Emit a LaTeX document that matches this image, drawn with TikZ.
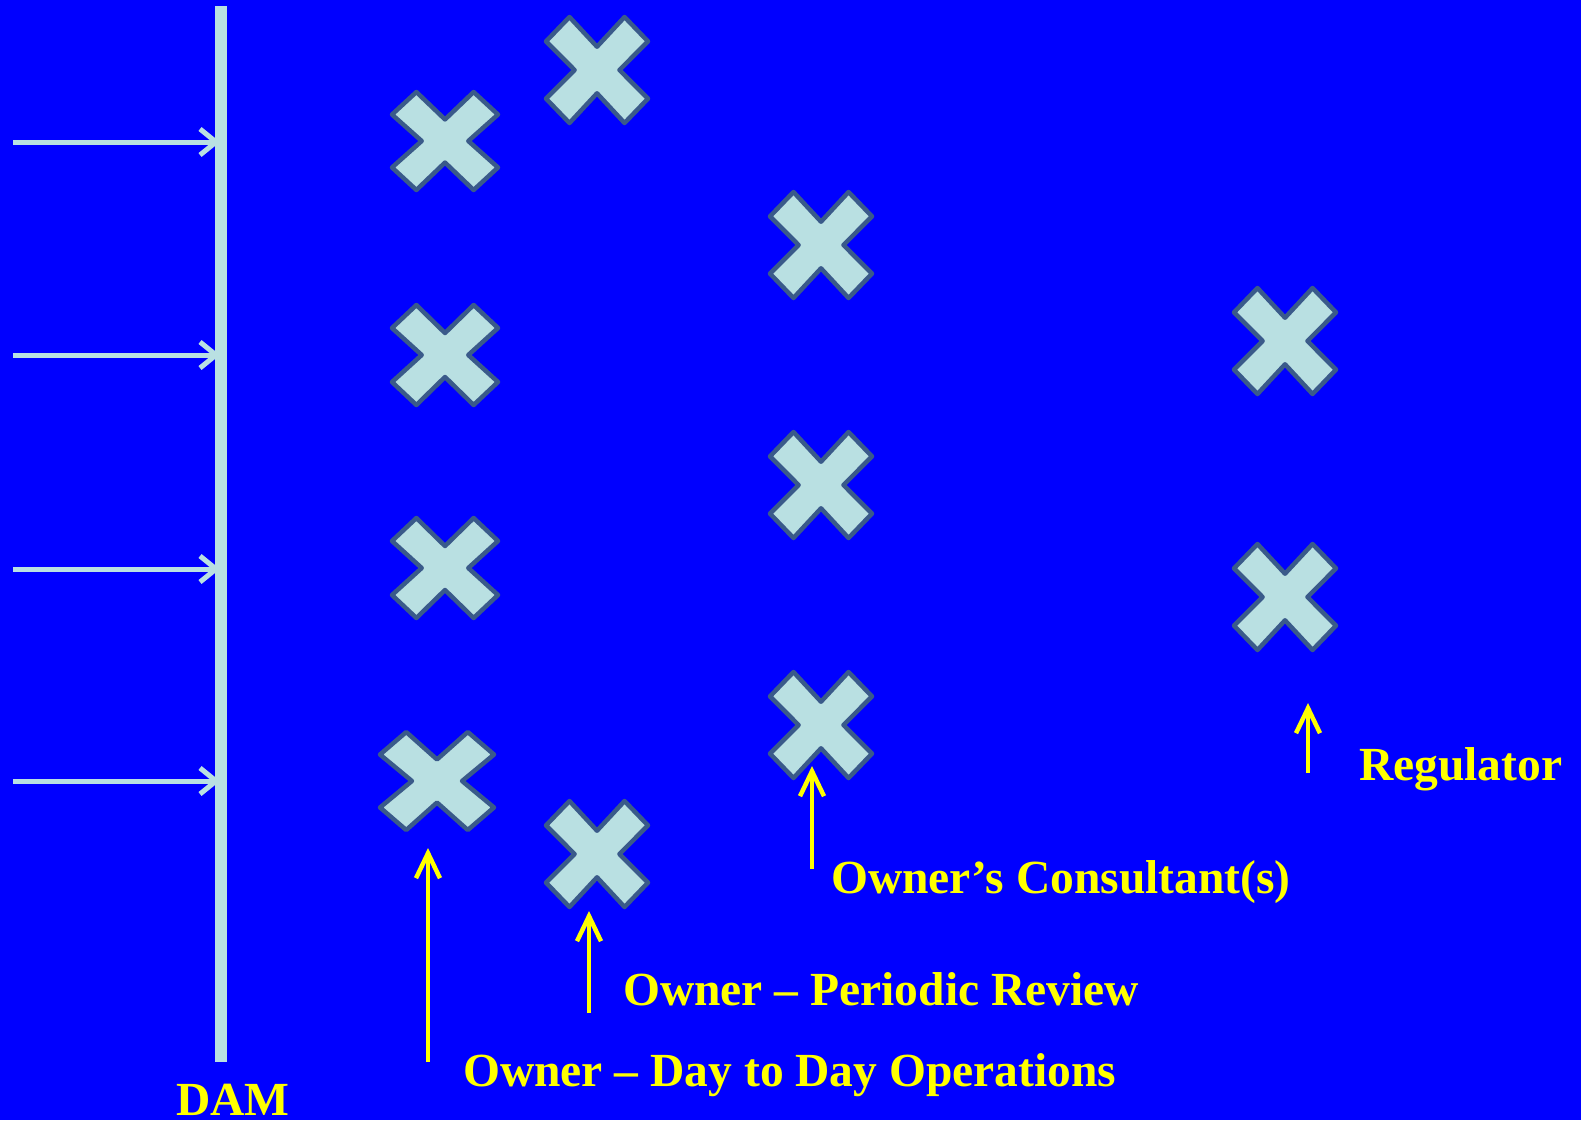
\documentclass[tikz,border=0pt]{standalone}
\usepackage{fontspec}
\setmainfont{Liberation Serif}
\usetikzlibrary{arrows.meta}
\definecolor{bgblue}{HTML}{0000FF}
\definecolor{xfill}{HTML}{B9E0E2}
\definecolor{xedge}{HTML}{3A5A8A}
\definecolor{ylw}{HTML}{FFFF00}
\tikzset{
  crossstyle/.style={fill=xfill, draw=xedge, line width=4.5pt, line join=round},
  damline/.style={draw=xfill, line width=12pt},
  flowarrow/.style={draw=xfill, line width=5pt, -{Straight Barb[length=16pt,width=26pt,line width=5pt]}},
  labelarrow/.style={draw=ylw, line width=4.5pt, -{Straight Barb[length=25pt,width=24pt,line width=4.5pt]}},
  lbl/.style={inner sep=0pt, anchor=base west, text=ylw, font=\fontsize{47.5}{56}\selectfont\bfseries}
}
\newcommand\XCross[4]{\draw[crossstyle, shift={(#1,#2)}, xscale=#3, yscale=#4]
  (-1,-0.54) -- (-0.54,-1) -- (0,-0.44) -- (0.54,-1) -- (1,-0.54) -- (0.44,0) --
  (1,0.54) -- (0.54,1) -- (0,0.44) -- (-0.54,1) -- (-1,0.54) -- (-0.44,0) -- cycle;}
\begin{document}
\begin{tikzpicture}[x=1pt,y=-1pt]
\fill[bgblue] (0,0) rectangle (1581,1120);
\useasboundingbox (0,0) rectangle (1581,1120);
% dam
\coordinate (damtop) at (221,6);
\coordinate (dambot) at (221,1062);
\draw[damline] (damtop) -- (dambot);
% flow arrows
\foreach \yy [count=\i] in {142,355,569,781}{
  \coordinate (fs\i) at (13,\yy);
  \coordinate (fe\i) at (220,\yy);
  \draw[flowarrow] (fs\i) -- (fe\i);
}
% crosses
\XCross{445}{141}{53}{49}
\XCross{597}{70}{51}{53}
\XCross{821}{245}{51}{53}
\XCross{445}{355}{53}{50}
\XCross{1285}{341}{51}{53}
\XCross{821}{485}{51}{53}
\XCross{445}{568}{53}{50}
\XCross{1285}{597}{51}{53}
\XCross{821}{725}{51}{53}
\XCross{437}{781}{57}{49}
\XCross{597}{854}{51}{53}
% labels
\node[lbl] (reg) at (1359,780) {Regulator};
\node[lbl] (cons) at (831,893) {Owner’s Consultant(s)};
\node[lbl] (per) at (623,1005) {Owner – Periodic Review};
\node[lbl] (day) at (463,1086) {Owner – Day to Day Operations};
\node[lbl] (dam) at (176,1115) {DAM};
% yellow arrows
\coordinate (a1s) at (1308,773); \coordinate (a1e) at (1308,703);
\coordinate (a2s) at (812,869);  \coordinate (a2e) at (812,766);
\coordinate (a3s) at (589,1013); \coordinate (a3e) at (589,911);
\coordinate (a4s) at (428,1062); \coordinate (a4e) at (428,848);
\draw[labelarrow] (a1s) -- (a1e);
\draw[labelarrow] (a2s) -- (a2e);
\draw[labelarrow] (a3s) -- (a3e);
\draw[labelarrow] (a4s) -- (a4e);
\end{tikzpicture}
\end{document}
